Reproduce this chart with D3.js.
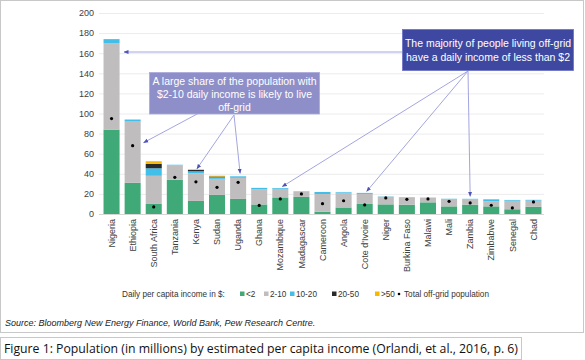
<!DOCTYPE html>
<html><head><meta charset="utf-8">
<script src="https://cdn.jsdelivr.net/npm/d3@7/dist/d3.min.js"></script>
<style>body{margin:0;background:#fff}svg{display:block}</style>
</head><body>
<script>
const categories = ["Nigeria","Ethiopia","South Africa","Tanzania","Kenya","Sudan","Uganda","Ghana","Mozambique","Madagascar","Cameroon","Angola","Cote d'Ivoire","Niger","Burkina Faso","Malawi","Mali","Zambia","Zimbabwe","Senegal","Chad"];
const lt2    = [84, 31, 10, 34, 13, 19, 15, 9.5, 16.5, 17, 2.3, 6.5, 10, 9.6, 9.3, 11.6, 7.6, 9.3, 7.6, 4.7, 7.3];
const r2_10  = [86, 61, 28, 14.5, 27.5, 16, 21, 15, 8.5, 5.5, 17.6, 14.3, 10, 7.6, 7.3, 4.4, 7.4, 5.5, 5, 8.5, 6];
const r10_20 = [4, 2, 7.5, 0.5, 2, 1.5, 1.5, 1.5, 0.8, 0.2, 2, 0.8, 1, 0.3, 0.2, 0.3, 0.2, 0.3, 2, 0.8, 0.8];
const r20_50 = [0, 0, 4.5, 0, 1.5, 0.8, 0, 0, 0, 0, 0, 0, 0, 0, 0, 0, 0, 0, 0, 0, 0];
const gt50   = [0, 0, 2.5, 0, 0, 0.8, 0, 0, 0, 0, 0, 0, 0, 0, 0, 0, 0, 0, 0, 0, 0];
const totalOffGrid = [95, 68, 7, 36.5, 32, 26.5, 31.5, 8.5, 15, 20, 10.3, 13.2, 9, 16, 14.6, 15, 12.6, 11, 8.7, 6, 12];
const yTicks = [0, 20, 40, 60, 80, 100, 120, 140, 160, 180, 200];
const seriesNames = ["<2", "2-10", "10-20", "20-50", ">50"];
const seriesColors = ["#3fa977", "#bfbdbd", "#41bfe9", "#2a2a2a", "#f6b900"];

const W = 585, H = 360;
const svg = d3.select("body").append("svg").attr("width", W).attr("height", H)
  .style("font-family", "'Liberation Sans', Arial, sans-serif");

// outer frame
svg.append("rect").attr("x", 0.5).attr("y", 0.5).attr("width", 583).attr("height", 332)
  .attr("fill", "none").attr("stroke", "#c8c8c8").attr("stroke-width", 1);

const x = d3.scaleBand().domain(categories).range([101, 544]).paddingInner(0.24).paddingOuter(0.12);
const y = d3.scaleLinear().domain([0, 200]).range([214, 13]);

// y axis + grid
const yAxis = svg.append("g").attr("transform", "translate(99,0)")
  .call(d3.axisLeft(y).tickValues(yTicks).tickSize(-445).tickPadding(5));
yAxis.select(".domain").remove();
yAxis.selectAll(".tick line").attr("stroke", d => d === 0 ? "#d6d6d6" : "#ececec");
yAxis.selectAll(".tick text").attr("fill", "#404040").style("font-size", "9px")
  .style("font-family", "'Liberation Sans', Arial, sans-serif");

// stacked data
const rows = categories.map((c, i) => ({cat: c, "<2": lt2[i], "2-10": r2_10[i], "10-20": r10_20[i], "20-50": r20_50[i], ">50": gt50[i]}));
const stack = d3.stack().keys(seriesNames)(rows);
const color = d3.scaleOrdinal().domain(seriesNames).range(seriesColors);

svg.append("g").selectAll("g").data(stack).join("g")
  .attr("fill", d => color(d.key))
  .selectAll("rect").data(d => d).join("rect")
  .attr("x", d => x(d.data.cat))
  .attr("width", x.bandwidth())
  .attr("y", d => y(d[1]))
  .attr("height", d => Math.max(0, y(d[0]) - y(d[1])));

// total dots
svg.append("g").selectAll("circle").data(categories).join("circle")
  .attr("cx", d => x(d) + x.bandwidth() / 2)
  .attr("cy", (d, i) => y(totalOffGrid[i]))
  .attr("r", 1.6).attr("fill", "#000");

// x axis
const xAxis = svg.append("g").attr("transform", "translate(0,214)")
  .call(d3.axisBottom(x).tickSize(0).tickPadding(0));
xAxis.select(".domain").remove();
xAxis.selectAll(".tick text")
  .attr("transform", "translate(0,5) rotate(-90)")
  .attr("text-anchor", "end").attr("dy", "0.35em").attr("y", 0).attr("x", 0)
  .attr("fill", "#404040").style("font-size", "9px")
  .style("font-family", "'Liberation Sans', Arial, sans-serif");

// arrow marker
const defs = svg.append("defs");
defs.append("marker").attr("id", "ah").attr("viewBox", "0 0 10 10")
  .attr("refX", 9).attr("refY", 5).attr("markerWidth", 5).attr("markerHeight", 5)
  .attr("orient", "auto-start-reverse")
  .append("path").attr("d", "M0,1 L10,5 L0,9 Z").attr("fill", "#4d53b8");

const arrowColor = "#a3a6e0";
function arrow(x1, y1, x2, y2) {
  svg.append("line").attr("x1", x1).attr("y1", y1).attr("x2", x2).attr("y2", y2)
    .attr("stroke", arrowColor).attr("stroke-width", 1).attr("marker-end", "url(#ah)");
}
const cx = c => x(c) + x.bandwidth() / 2;
const tot = c => { const i = categories.indexOf(c); return lt2[i] + r2_10[i] + r10_20[i] + r20_50[i] + gt50[i]; };

// Annotation 1 arrows
arrow(402, 52, 124, 52);
arrow(468, 71, cx("Mozambique") + 2, y(tot("Mozambique")) - 1.5);
arrow(468, 71, cx("Cote d'Ivoire") + 2, y(tot("Cote d'Ivoire")) - 1.5);
arrow(468, 71, cx("Zambia"), y(tot("Zambia")) - 2.5);

// Annotation 2 arrows
arrow(199, 113, cx("Ethiopia") + 11, y(71));
arrow(234, 115, cx("Kenya") + 1, y(tot("Kenya")) - 1);
arrow(234, 115, cx("Uganda") + 2, y(tot("Uganda")) - 3);

// Annotation boxes
svg.append("rect").attr("x", 402.5).attr("y", 29.5).attr("width", 171).attr("height", 41)
  .attr("fill", "#3f48a1").attr("stroke", "#6c72c4").attr("stroke-width", 0.8);
const t1 = svg.append("text").attr("fill", "#fff").attr("text-anchor", "middle")
  .style("font-size", "10.5px");
t1.append("tspan").attr("x", 488).attr("y", 47).text("The majority of people living off-grid");
t1.append("tspan").attr("x", 488).attr("y", 61).text("have a daily income of less than $2");

svg.append("rect").attr("x", 149.5).attr("y", 72.5).attr("width", 170).attr("height", 41.5)
  .attr("fill", "#8e8fc9").attr("stroke", "#a9aade").attr("stroke-width", 0.8);
const t2 = svg.append("text").attr("fill", "#fff").attr("text-anchor", "middle")
  .style("font-size", "10.5px");
t2.append("tspan").attr("x", 234.5).attr("y", 84.5).text("A large share of the population with");
t2.append("tspan").attr("x", 234.5).attr("y", 98).text("$2-10 daily income is likely to live");
t2.append("tspan").attr("x", 234.5).attr("y", 111).text("off-grid");

// Legend
const lg = svg.append("g").style("font-size", "8.2px").attr("fill", "#333");
lg.append("text").attr("x", 122).attr("y", 297).text("Daily per capita income in $:");
const legendX = [240, 264, 290, 332, 375];
seriesNames.forEach((s, i) => {
  lg.append("rect").attr("x", legendX[i]).attr("y", 291.5).attr("width", 4.5).attr("height", 4.5).attr("fill", seriesColors[i]);
  lg.append("text").attr("x", legendX[i] + 6).attr("y", 297).text(s);
});
lg.append("circle").attr("cx", 399).attr("cy", 294).attr("r", 1.3).attr("fill", "#000");
lg.append("text").attr("x", 404).attr("y", 297).text("Total off-grid population");

// Source
svg.append("text").attr("x", 5).attr("y", 326).attr("fill", "#222")
  .style("font-size", "9px").style("font-style", "italic")
  .text("Source: Bloomberg New Energy Finance, World Bank, Pew Research Centre.");

// Caption box
svg.append("rect").attr("x", 0.5).attr("y", 337.5).attr("width", 521).attr("height", 22)
  .attr("fill", "none").attr("stroke", "#c8c8c8");
svg.append("text").attr("x", 4).attr("y", 353).attr("fill", "#111")
  .style("font-size", "13px").style("font-family", "'Open Sans', 'Noto Sans', sans-serif")
  .attr("textLength", 514).attr("lengthAdjust", "spacingAndGlyphs")
  .text("Figure 1: Population (in millions) by estimated per capita income (Orlandi, et al., 2016, p. 6)");
</script>
</body></html>
